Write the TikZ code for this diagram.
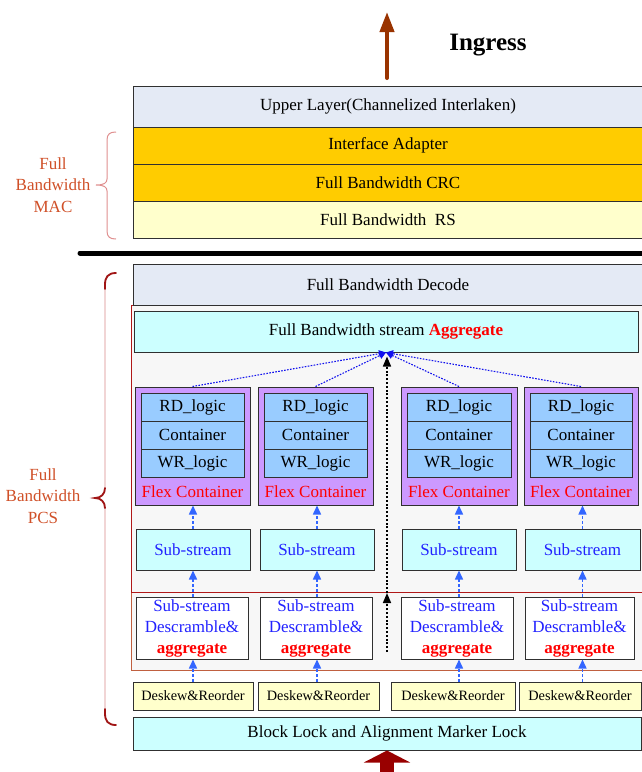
\documentclass[tikz,border=0pt]{standalone}
\usepackage{fontspec}
\setmainfont{Liberation Serif}
\usetikzlibrary{arrows.meta}
\definecolor{upperfill}{HTML}{E4EAF5}
\definecolor{goldfill}{HTML}{FFCC00}
\definecolor{rsfill}{HTML}{FFFFCC}
\definecolor{cyanfill}{HTML}{CCFFFF}
\definecolor{outerfill}{HTML}{F7F7F7}
\definecolor{outerred}{HTML}{B01818}
\definecolor{outerbrown}{HTML}{C06040}
\definecolor{flexfill}{HTML}{CC99FF}
\definecolor{innerfill}{HTML}{99CCFF}
\definecolor{boxline}{HTML}{303030}
\definecolor{bluetext}{HTML}{2222FF}
\definecolor{bluearrow}{HTML}{3366FF}
\definecolor{dotblue}{HTML}{1111EE}
\definecolor{labelred}{HTML}{D05028}
\definecolor{brownarrow}{HTML}{993300}
\definecolor{darkredarrow}{HTML}{990000}
\definecolor{bracepink}{HTML}{EBC0C0}
\definecolor{bracedark}{HTML}{A01515}
\definecolor{macbrace}{HTML}{E09090}
\begin{document}
\begin{tikzpicture}[x=1pt,y=-1pt,
  box/.style 2 args={draw=boxline, line width=1pt, inner sep=0pt, minimum width=#1pt, minimum height=#2pt, font=\fontsize{17}{21}\selectfont, align=center},
  smallbox/.style 2 args={box={#1}{#2}, font=\fontsize{14.3}{17}\selectfont},
  plain/.style={inner sep=0pt, font=\fontsize{17}{21}\selectfont, align=center},
  sidelabel/.style={plain, text=labelred, font=\fontsize{17}{21.5}\selectfont},
  bluearr/.style={draw=bluearrow, line width=1.5pt, dash pattern=on 3pt off 2pt, -{Triangle[width=8pt,length=9pt]}, bluearrow},
  dotarr/.style={draw=dotblue, line width=1.1pt, dash pattern=on 1.6pt off 1.4pt, -{Triangle[width=7pt,length=7pt]}, dotblue},
  blackarr/.style={draw=black, line width=1.6pt, dash pattern=on 2pt off 1.8pt, -{Triangle[width=8pt,length=10pt]}}
]
\useasboundingbox (0,0) rectangle (641,772);
\fill[white] (0,0) rectangle (641,772);

% top arrow and title
\coordinate (ingS) at (387,78);
\coordinate (ingE) at (387,12);
\draw[brownarrow, line width=4pt, line cap=round, -{Triangle[width=14pt,length=20pt]}] (ingS) -- (ingE);
\node[inner sep=0pt, font=\fontsize{25}{30}\selectfont\bfseries] (ingress) at (488,45) {Ingress};

% MAC stack
\node[box={510}{41}, fill=upperfill] (upper) at (388,106.5) {Upper Layer(Channelized Interlaken)};
\node[box={510}{37}, fill=goldfill] (iface) at (388,145.5) {Interface Adapter};
\node[box={510}{37}, fill=goldfill] (crc) at (388,182.5) {Full Bandwidth CRC};
\node[box={510}{37}, fill=rsfill] (rs) at (388,219.5) {Full Bandwidth\ \ RS};

% MAC brace and label
\draw[macbrace, line width=1pt] (116,132) .. controls (110,132) and (107,134) .. (107,140) -- (107,179) .. controls (107,183) and (104,185) .. (96,185) .. controls (104,185) and (107,187) .. (107,191) -- (107,231) .. controls (107,237) and (110,239) .. (116,239);
\node[sidelabel] (maclabel) at (53,185) {Full\\Bandwidth\\MAC};

% separator
\draw[line width=5pt, line cap=round] (80,253) -- (645,253);

% PCS background regions
\draw[fill=outerfill, draw=outerbrown, line width=1pt] (131,592) rectangle (645,670);
\draw[fill=outerfill, draw=outerred, line width=1pt] (131,305) rectangle (645,592);

\node[box={510}{41}, fill=upperfill] (decode) at (388,284.5) {Full Bandwidth Decode};
\node[box={504}{41}, fill=cyanfill] (agg) at (386,331.5) {Full Bandwidth stream \textcolor{red}{\bfseries Aggregate}};

% flex containers
\foreach \i/\cx/\w in {1/192.5/115, 2/315.5/115, 3/459/116, 4/581/114}{
  \node[box={\w}{118}, fill=flexfill] (flex\i) at (\cx,446) {};
  \node[box={\w-12}{28}, fill=innerfill] (rd\i) at (\cx,407) {RD\_logic};
  \node[box={\w-12}{28}, fill=innerfill] (cont\i) at (\cx,435) {Container};
  \node[box={\w-12}{28}, fill=innerfill] (wr\i) at (\cx,463) {WR\_logic};
  \node[plain, text=red] (flexlab\i) at (\cx,492) {Flex Container};
}

% sub-streams
\foreach \i/\cx/\w in {1/193/114, 2/317/114, 3/459/114, 4/582.5/115}{
  \node[box={\w}{41}, fill=cyanfill, text=bluetext] (sub\i) at (\cx,549.5) {Sub-stream};
}

% descramble
\foreach \i/\cx/\w in {1/192/112, 2/316/112, 3/457/112, 4/579.5/109}{
  \node[box={\w}{62}, fill=white, text=bluetext] (desc\i) at (\cx,628) {Sub-stream\\Descramble\&\\\textcolor{red}{\bfseries aggregate}};
}

% deskew
\foreach \i/\cx/\w in {1/193/120, 2/318.5/121, 3/453/124, 4/580/122}{
  \node[smallbox={\w}{28}, fill=rsfill] (deskew\i) at (\cx,696) {Deskew\&Reorder};
}

\node[box={508}{33}, fill=cyanfill] (block) at (387,733.5) {Block Lock and Alignment Marker Lock};

% PCS brace and label
\draw[bracepink, line width=1.3pt] (116,273) .. controls (108,273) and (105,277) .. (105,285) -- (105,487) .. controls (105,494) and (101,498) .. (95,498) .. controls (101,498) and (105,502) .. (105,509) -- (105,713) .. controls (105,721) and (108,725) .. (116,725);
\draw[bracedark, line width=1.8pt, line cap=round] (116,273) .. controls (108,273) and (105,277) .. (105,285) -- (105,289);
\draw[bracedark, line width=1.8pt, line cap=round] (105,488) .. controls (105,494) and (101,498) .. (95,498) .. controls (101,498) and (105,502) .. (105,508);
\draw[bracedark, line width=1.8pt, line cap=round] (105,709) -- (105,713) .. controls (105,721) and (108,725) .. (116,725);
\node[sidelabel] (pcslabel) at (43,496) {Full\\Bandwidth\\PCS};

% arrows
\foreach \i in {1,...,4}{
  \draw[bluearr] (sub\i.north) -- (sub\i.north |- flex\i.south);
  \draw[bluearr] (desc\i.north -| sub\i.south) -- (sub\i.south);
  \draw[bluearr] (deskew\i.north -| sub\i.south) -- (desc\i.south -| sub\i.south);
  \draw[dotarr] (flex\i.north) -- (agg.south);
}
\coordinate (blk0) at (387,652);
\coordinate (blk1) at (387,593);
\coordinate (aggin) at ([yshift=-4pt]agg.south);
\draw[blackarr] (blk0) -- (blk1);
\draw[blackarr] (blk1) -- (blk1 |- aggin);

% bottom arrow
\coordinate (egS) at (387,785);
\draw[darkredarrow, line width=14pt, -{Triangle[width=46pt,length=12pt]}] (egS) -- (block.south);
\end{tikzpicture}
\end{document}
